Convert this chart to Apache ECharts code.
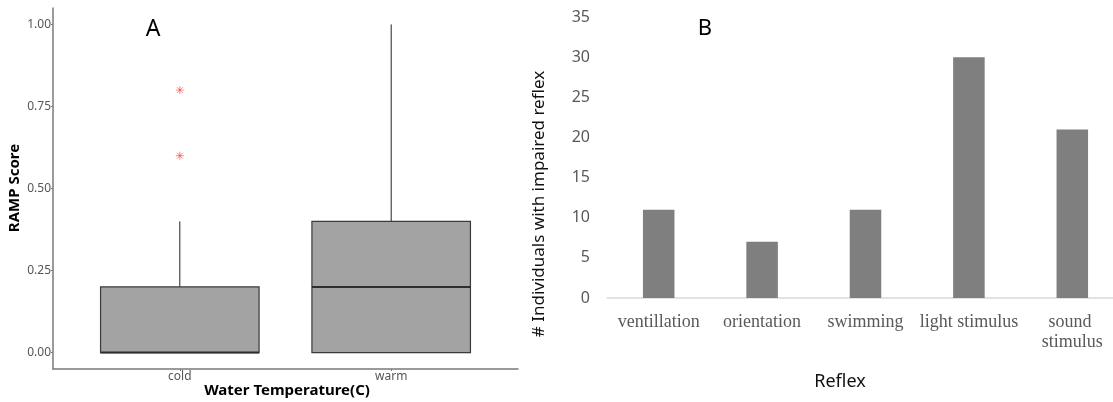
<!DOCTYPE html>
<html>
<head>
<meta charset="utf-8">
<script src="https://cdn.jsdelivr.net/npm/echarts@6/dist/echarts.min.js"></script>
<style>
html,body{margin:0;padding:0;background:#fff;}
#chart{width:1113px;height:402px;}
</style>
</head>
<body>
<div id="chart"></div>
<script>
// Panel A: RAMP score box plots
const tempCategories = ['cold', 'warm'];
const boxLow = [0, 0];
const boxQ1 = [0, 0];
const boxMedian = [0, 0.2];
const boxQ3 = [0.2, 0.4];
const boxHigh = [0.4, 1.0];
const outlierCategory = ['cold', 'cold'];
const outlierValues = [0.8, 0.6];
const rampTicks = [0, 0.25, 0.5, 0.75, 1.0];

// Panel B: impaired reflex counts
const reflexCategories = ['ventillation', 'orientation', 'swimming', 'light stimulus', 'sound stimulus'];
const reflexCounts = [11, 7, 11, 30, 21];

const chart = echarts.init(document.getElementById('chart'));

const boxData = tempCategories.map((c, i) => [i + 1, boxLow[i], boxQ1[i], boxMedian[i], boxQ3[i], boxHigh[i]]);
const outlierData = outlierValues.map((v, i) => [tempCategories.indexOf(outlierCategory[i]) + 1, v]);

function renderBox(params, api) {
  const x = api.value(0);
  const half = api.size([0.75, 0])[0] / 2;
  const pLow = api.coord([x, api.value(1)]);
  const pQ1 = api.coord([x, api.value(2)]);
  const pMed = api.coord([x, api.value(3)]);
  const pQ3 = api.coord([x, api.value(4)]);
  const pHigh = api.coord([x, api.value(5)]);
  const cx = pQ1[0];
  return {
    type: 'group',
    children: [
      { type: 'line', shape: { x1: cx, y1: pQ3[1], x2: cx, y2: pHigh[1] }, style: { stroke: '#222', lineWidth: 1 } },
      { type: 'line', shape: { x1: cx, y1: pLow[1], x2: cx, y2: pQ1[1] }, style: { stroke: '#222', lineWidth: 1 } },
      { type: 'rect', shape: { x: cx - half, y: pQ3[1], width: 2 * half, height: pQ1[1] - pQ3[1] },
        style: { fill: '#a3a3a3', stroke: '#3a3a3a', lineWidth: 1.2 } },
      { type: 'line', shape: { x1: cx - half, y1: pMed[1], x2: cx + half, y2: pMed[1] }, style: { stroke: '#2e2e2e', lineWidth: 2 } }
    ]
  };
}

function renderAsterisk(params, api) {
  const p = api.coord([api.value(0), api.value(1)]);
  const r = 4;
  const d = r * 0.72;
  const st = { stroke: 'rgba(255,40,40,0.55)', lineWidth: 1 };
  return {
    type: 'group',
    children: [
      { type: 'line', shape: { x1: p[0] - r, y1: p[1], x2: p[0] + r, y2: p[1] }, style: st },
      { type: 'line', shape: { x1: p[0], y1: p[1] - r, x2: p[0], y2: p[1] + r }, style: st },
      { type: 'line', shape: { x1: p[0] - d, y1: p[1] - d, x2: p[0] + d, y2: p[1] + d }, style: st },
      { type: 'line', shape: { x1: p[0] - d, y1: p[1] + d, x2: p[0] + d, y2: p[1] - d }, style: st }
    ]
  };
}

const option = {
  backgroundColor: '#fff',
  animation: false,
  grid: [
    { left: 53, top: 8, width: 465, height: 361, outerBoundsMode: 'none', containLabel: false },
    { left: 607, top: 17, width: 517, height: 281, outerBoundsMode: 'none', containLabel: false }
  ],
  xAxis: [
    {
      gridIndex: 0, type: 'value', min: 0.4, max: 2.6,
      axisLine: { show: true, onZero: false, lineStyle: { color: '#7a7a7a', width: 1.5 } },
      axisTick: { show: true, length: 2, customValues: [1, 2], lineStyle: { color: '#7a7a7a' } },
      axisLabel: { customValues: [1, 2], formatter: v => tempCategories[Math.round(v) - 1],
        color: '#555', fontFamily: 'Noto Sans', fontSize: 12, margin: 2 },
      splitLine: { show: false }
    },
    {
      gridIndex: 1, type: 'category', data: reflexCategories, boundaryGap: true,
      axisLine: { show: true, onZero: false, lineStyle: { color: '#d9d9d9', width: 1.5 } },
      axisTick: { show: false },
      axisLabel: { interval: 0, color: '#595959', fontFamily: 'Liberation Serif', fontSize: 18,
        lineHeight: 20, margin: 14, width: 104, overflow: 'break' },
      splitLine: { show: false }
    }
  ],
  yAxis: [
    {
      gridIndex: 0, type: 'value', min: -0.05, max: 1.05,
      axisLine: { show: true, onZero: false, lineStyle: { color: '#7a7a7a', width: 1.5 } },
      axisTick: { show: true, length: 2, customValues: rampTicks, lineStyle: { color: '#7a7a7a' } },
      axisLabel: { customValues: rampTicks, formatter: v => v.toFixed(2),
        color: '#555', fontFamily: 'Noto Sans', fontSize: 12, margin: 2 },
      splitLine: { show: false }
    },
    {
      gridIndex: 1, type: 'value', min: 0, max: 35, interval: 5,
      axisLine: { show: false }, axisTick: { show: false },
      axisLabel: { color: '#595959', fontFamily: 'Noto Sans', fontSize: 16, margin: 17 },
      splitLine: { show: false }
    }
  ],
  series: [
    { type: 'custom', xAxisIndex: 0, yAxisIndex: 0, data: boxData, renderItem: renderBox,
      encode: { x: 0, y: [1, 2, 3, 4, 5] }, silent: true },
    { type: 'custom', xAxisIndex: 0, yAxisIndex: 0, data: outlierData, renderItem: renderAsterisk,
      encode: { x: 0, y: 1 }, silent: true },
    { type: 'bar', xAxisIndex: 1, yAxisIndex: 1, data: reflexCounts, barWidth: '30.5%',
      itemStyle: { color: '#7f7f7f' }, silent: true }
  ],
  graphic: [
    { type: 'text', x: 153, y: 29, style: { text: 'A', fontFamily: 'Noto Sans', fontSize: 23, fill: '#000', textAlign: 'center', textVerticalAlign: 'middle' } },
    { type: 'text', x: 705, y: 29, style: { text: 'B', fontFamily: 'Noto Sans', fontSize: 22, fill: '#000', textAlign: 'center', textVerticalAlign: 'middle' } },
    { type: 'text', x: 15, y: 188, rotation: Math.PI / 2, style: { text: 'RAMP Score', fontFamily: 'Noto Sans', fontWeight: 'bold', fontSize: 15, fill: '#000', textAlign: 'center', textVerticalAlign: 'middle' } },
    { type: 'text', x: 287, y: 391, style: { text: 'Water Temperature(C)', fontFamily: 'Noto Sans', fontWeight: 'bold', fontSize: 15, fill: '#000', textAlign: 'center', textVerticalAlign: 'middle' } },
    { type: 'text', x: 539, y: 204, rotation: Math.PI / 2, style: { text: '# Individuals with impaired reflex', fontFamily: 'Noto Sans', fontSize: 17, fill: '#111', textAlign: 'center', textVerticalAlign: 'middle' } },
    { type: 'text', x: 840, y: 382, style: { text: 'Reflex', fontFamily: 'Noto Sans', fontSize: 18, fill: '#111', textAlign: 'center', textVerticalAlign: 'middle' } }
  ]
};
chart.setOption(option);
</script>
</body>
</html>
